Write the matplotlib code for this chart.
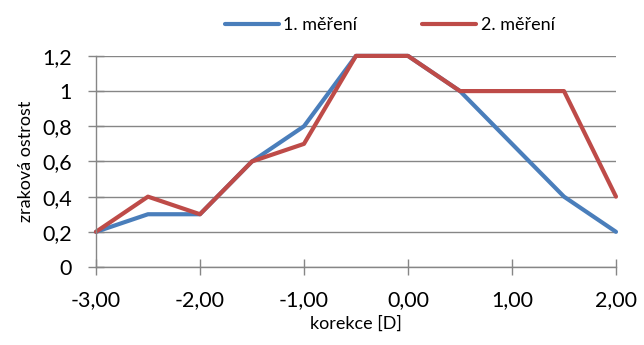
import matplotlib
matplotlib.use('Agg')
import matplotlib.pyplot as plt
from matplotlib.ticker import FuncFormatter, MultipleLocator

plt.rcParams['font.family'] = ['Lato', 'DejaVu Sans']

korekce = [-3.0, -2.5, -2.0, -1.5, -1.0, -0.5, 0.0, 0.5, 1.0, 1.5, 2.0]
mereni_1 = [0.2, 0.3, 0.3, 0.6, 0.8, 1.2, 1.2, 1.0, 0.7, 0.4, 0.2]
mereni_2 = [0.2, 0.4, 0.3, 0.6, 0.7, 1.2, 1.2, 1.0, 1.0, 1.0, 0.4]
labels = ['1. měření', '2. měření']

fig = plt.figure(figsize=(6.44, 3.45), dpi=100)
ax = fig.add_axes([0.149, 0.226, 0.8075, 0.612])

ax.plot(korekce, mereni_1, color='#4A7EBB', lw=3, label=labels[0],
        solid_capstyle='round', clip_on=False)
ax.plot(korekce, mereni_2, color='#BE4B48', lw=3, label=labels[1],
        solid_capstyle='round', clip_on=False)

ax.set_xlim(-3, 2)
ax.set_ylim(0, 1.2)
ax.xaxis.set_major_locator(MultipleLocator(1))
ax.yaxis.set_major_locator(MultipleLocator(0.2))
ax.xaxis.set_major_formatter(FuncFormatter(lambda v, p: f'{v:.2f}'.replace('.', ',')))

def yfmt(v, p):
    s = f'{v:.1f}'.rstrip('0').rstrip('.')
    return s.replace('.', ',')
ax.yaxis.set_major_formatter(FuncFormatter(yfmt))

ax.grid(axis='y', color='#868686', lw=1)
ax.set_axisbelow(True)
for s in ['top', 'right']:
    ax.spines[s].set_visible(False)
for s in ['left', 'bottom']:
    ax.spines[s].set_color('#868686')
    ax.spines[s].set_linewidth(1)
ax.tick_params(direction='inout', length=11, width=1, color='#868686',
               labelsize=15.5)
ax.tick_params(axis='x', pad=11)
ax.tick_params(axis='y', pad=12)

ax.set_xlabel('korekce [D]', fontsize=13, labelpad=4)
ax.set_ylabel('zraková ostrost', fontsize=13, labelpad=6)

ax.legend(loc='upper center', bbox_to_anchor=(0.565, 1.26), ncol=2, frameon=False,
          fontsize=13, handlelength=3.0, handletextpad=0.25, columnspacing=3.6)

fig.savefig('out.png', dpi=100)
